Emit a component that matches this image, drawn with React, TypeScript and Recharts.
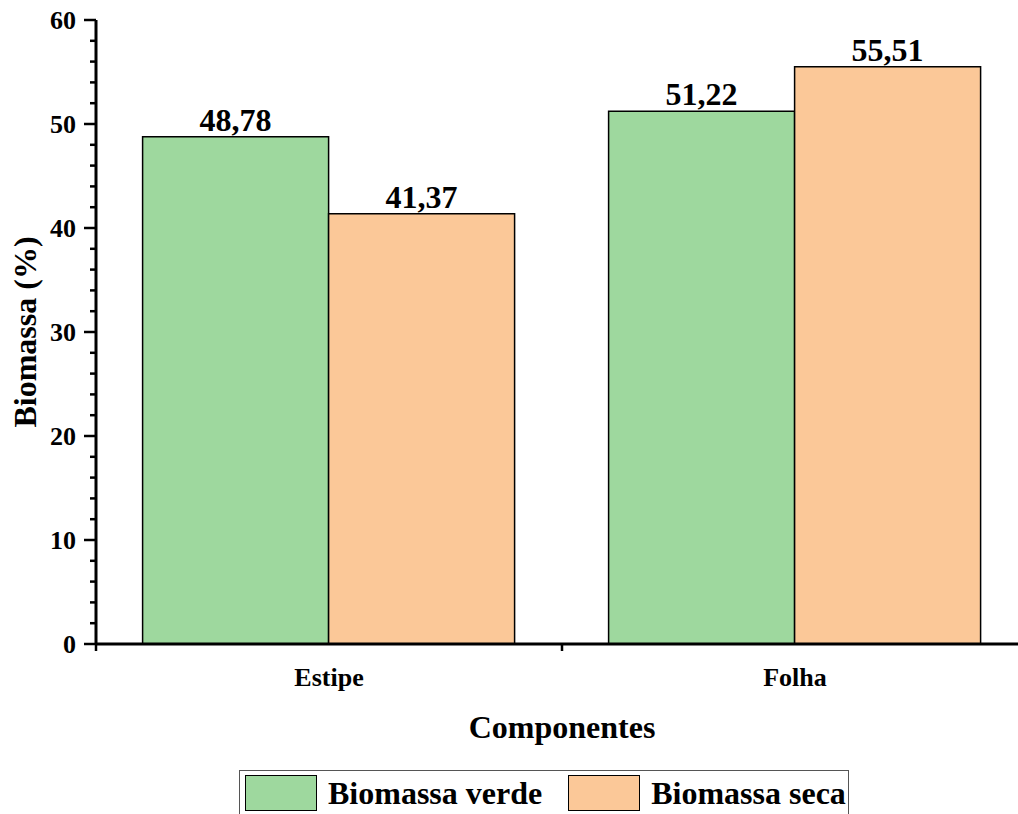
import React from "react";
import { BarChart, Bar, XAxis, YAxis, LabelList, Label } from "recharts";

const categories = ["Estipe", "Folha"];
const verde = [48.78, 51.22];
const seca = [41.37, 55.51];
const yTicks = [0, 2, 4, 6, 8, 10, 12, 14, 16, 18, 20, 22, 24, 26, 28, 30, 32, 34, 36, 38, 40, 42, 44, 46, 48, 50, 52, 54, 56, 58, 60];

const GREEN = "#9ED89E";
const ORANGE = "#FBC898";
const FONT = "'Liberation Serif', 'Times New Roman', serif";

const data = categories.map((c, i) => ({ name: c, verde: verde[i], seca: seca[i] }));

const fmt = (v: number) => v.toFixed(2).replace(".", ",");

function YTick({ x, y, payload }: any) {
  const major = payload.value % 10 === 0;
  return (
    <g>
      <line x1={x - (major ? 12 : 6)} x2={x} y1={y} y2={y} stroke="#000" strokeWidth={2.5} />
      {major && (
        <text x={x - 20} y={y} dy={9} textAnchor="end" style={{ fontFamily: FONT, fontWeight: "bold", fontSize: 26 }} fill="#000">
          {payload.value}
        </text>
      )}
    </g>
  );
}

function XTick({ x, y, payload, index }: any) {
  return (
    <g>
      {index === 0 && <line x1={x + 233} x2={x + 233} y1={y} y2={y + 7} stroke="#000" strokeWidth={2.5} />}
      {index === 0 && <line x1={x - 233} x2={x - 233} y1={y} y2={y + 7} stroke="#000" strokeWidth={2.5} />}
      <text x={x} y={y + 42} textAnchor="middle" style={{ fontFamily: FONT, fontWeight: "bold", fontSize: 26 }} fill="#000">
        {payload.value}
      </text>
    </g>
  );
}

function Swatch({ color }: { color: string }) {
  return <span style={{ display: "inline-block", width: 72, height: 36, background: color, border: "1.5px solid #000", boxSizing: "border-box", marginRight: 11 }} />;
}

export default function App() {
  return (
    <div style={{ position: "absolute", left: 0, top: 0, width: 1018, height: 814, overflow: "hidden", background: "#fff" }}>
      <BarChart width={1040} height={814} data={data} margin={{ top: 20, right: 12, left: 0, bottom: 0 }} barGap={0} barCategoryGap="10%">
        <XAxis
          dataKey="name"
          height={170}
          axisLine={{ stroke: "#000", strokeWidth: 3 }}
          tickLine={false}
          tickSize={0}
          tickMargin={0}
          tick={<XTick />}
          interval={0}
        >
          <Label value="Componentes" position="insideTop" offset={71} style={{ fontFamily: FONT, fontWeight: "bold", fontSize: 32, fill: "#000" }} />
        </XAxis>
        <YAxis
          width={96}
          domain={[0, 60]}
          ticks={yTicks}
          interval={0}
          axisLine={{ stroke: "#000", strokeWidth: 3 }}
          tickLine={false}
          tickSize={0}
          tickMargin={0}
          tick={<YTick />}
        >
          <Label value="Biomassa (%)" angle={-90} position="insideLeft" offset={25} style={{ fontFamily: FONT, fontWeight: "bold", fontSize: 32, fill: "#000", textAnchor: "middle" }} />
        </YAxis>
        <Bar dataKey="verde" fill={GREEN} stroke="#000" strokeWidth={1.5} isAnimationActive={false}>
          <LabelList dataKey="verde" position="top" offset={6} formatter={(v: any) => fmt(v)} style={{ fontFamily: FONT, fontWeight: "bold", fontSize: 32, fill: "#000" }} />
        </Bar>
        <Bar dataKey="seca" fill={ORANGE} stroke="#000" strokeWidth={1.5} isAnimationActive={false}>
          <LabelList dataKey="seca" position="top" offset={6} formatter={(v: any) => fmt(v)} style={{ fontFamily: FONT, fontWeight: "bold", fontSize: 32, fill: "#000" }} />
        </Bar>
      </BarChart>
      <div
        style={{
          position: "absolute",
          left: 239,
          top: 770,
          width: 610,
          height: 60,
          border: "1.2px solid #555",
          boxSizing: "border-box",
          display: "flex",
          alignItems: "flex-start",
          paddingTop: 4,
          paddingLeft: 5,
          fontFamily: FONT,
          fontWeight: "bold",
          fontSize: 32,
          color: "#000",
        }}
      >
        <Swatch color={GREEN} />
        <span style={{ lineHeight: "37px", marginRight: 26 }}>Biomassa verde</span>
        <Swatch color={ORANGE} />
        <span style={{ lineHeight: "37px" }}>Biomassa seca</span>
      </div>
    </div>
  );
}
